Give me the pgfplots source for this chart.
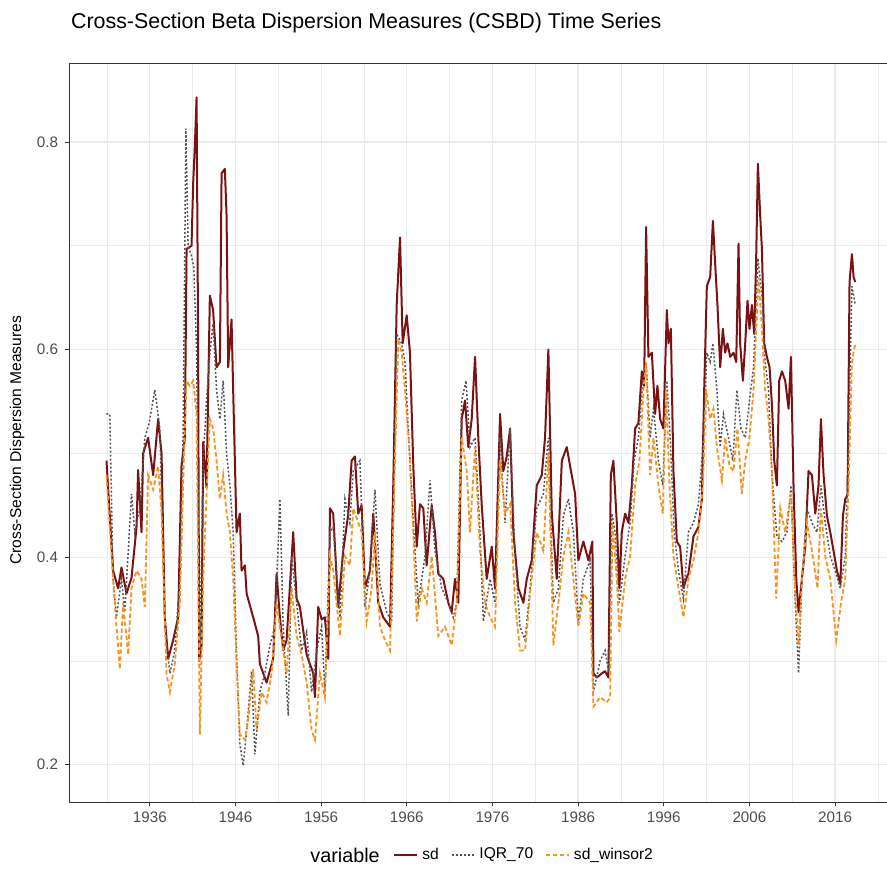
\documentclass[border=0pt]{standalone}
\usepackage{fontspec}
\setmainfont{Liberation Sans}
\usepackage{pgfplots}
\pgfplotsset{compat=1.18}
\usepackage{pgfplotstable}

\definecolor{sdred}{RGB}{122,18,20}
\definecolor{iqrgray}{RGB}{85,85,85}
\definecolor{winorange}{RGB}{247,147,30}
\definecolor{gridgray}{RGB}{235,235,235}
\definecolor{framegray}{RGB}{51,51,51}
\definecolor{ticktext}{RGB}{77,77,77}

% sd
\pgfplotstableread{
year val
1930.94 0.493
1931.71 0.387
1932.30 0.370
1932.69 0.390
1933.28 0.365
1933.86 0.380
1934.45 0.429
1934.63 0.484
1935.03 0.424
1935.22 0.500
1935.80 0.515
1936.39 0.479
1936.97 0.533
1937.37 0.500
1937.75 0.342
1938.14 0.302
1938.72 0.320
1939.31 0.342
1939.70 0.488
1940.09 0.515
1940.29 0.697
1940.87 0.700
1941.06 0.760
1941.26 0.797
1941.46 0.843
1941.64 0.606
1941.76 0.300
1942.04 0.315
1942.23 0.511
1942.62 0.467
1943.01 0.652
1943.39 0.638
1943.79 0.583
1944.18 0.588
1944.38 0.770
1944.76 0.774
1944.96 0.729
1945.15 0.583
1945.54 0.629
1945.73 0.561
1946.13 0.424
1946.51 0.442
1946.71 0.387
1947.10 0.392
1947.30 0.365
1948.07 0.342
1948.65 0.324
1948.85 0.297
1949.63 0.279
1950.40 0.302
1950.80 0.384
1951.19 0.342
1951.57 0.310
1951.97 0.320
1952.74 0.424
1953.14 0.360
1953.52 0.352
1954.31 0.306
1955.08 0.288
1955.28 0.265
1955.66 0.352
1956.06 0.340
1956.44 0.342
1956.83 0.302
1957.03 0.447
1957.41 0.442
1957.99 0.352
1958.58 0.406
1959.17 0.442
1959.56 0.493
1959.95 0.497
1960.33 0.442
1960.73 0.450
1961.12 0.370
1961.70 0.387
1962.09 0.442
1962.67 0.356
1963.25 0.342
1964.04 0.333
1964.42 0.469
1964.82 0.643
1965.21 0.708
1965.52 0.606
1965.99 0.633
1966.37 0.597
1966.76 0.488
1967.16 0.410
1967.54 0.451
1967.93 0.447
1968.32 0.392
1968.91 0.450
1969.29 0.424
1969.68 0.384
1970.26 0.379
1970.85 0.356
1971.24 0.347
1971.63 0.379
1972.02 0.356
1972.41 0.533
1972.80 0.551
1973.18 0.506
1973.58 0.533
1973.97 0.593
1974.35 0.515
1974.75 0.450
1975.33 0.379
1975.92 0.410
1976.30 0.370
1976.89 0.538
1977.27 0.483
1977.67 0.497
1978.06 0.524
1978.44 0.424
1979.03 0.370
1979.61 0.356
1980.01 0.379
1980.59 0.397
1981.17 0.469
1981.76 0.479
1982.14 0.515
1982.53 0.600
1982.93 0.442
1983.51 0.379
1984.10 0.493
1984.68 0.506
1985.06 0.488
1985.65 0.461
1986.03 0.397
1986.62 0.415
1987.20 0.397
1987.67 0.415
1987.79 0.288
1988.18 0.284
1988.77 0.288
1989.15 0.290
1989.54 0.284
1989.82 0.479
1990.12 0.493
1990.52 0.433
1990.82 0.370
1991.10 0.424
1991.49 0.442
1991.88 0.433
1992.27 0.469
1992.66 0.524
1993.04 0.529
1993.44 0.579
1993.71 0.565
1993.94 0.718
1994.21 0.593
1994.61 0.597
1994.99 0.538
1995.26 0.565
1995.58 0.533
1995.96 0.524
1996.36 0.638
1996.55 0.606
1996.83 0.620
1997.13 0.483
1997.53 0.415
1997.91 0.410
1998.30 0.370
1998.62 0.379
1998.88 0.384
1999.47 0.420
2000.05 0.429
2000.45 0.456
2000.72 0.561
2001.03 0.661
2001.42 0.670
2001.74 0.724
2002.00 0.683
2002.27 0.643
2002.59 0.583
2002.90 0.620
2003.17 0.597
2003.44 0.606
2003.76 0.593
2004.14 0.597
2004.46 0.588
2004.73 0.702
2004.92 0.606
2005.24 0.570
2005.51 0.606
2005.78 0.647
2006.01 0.620
2006.29 0.643
2006.56 0.615
2006.79 0.688
2006.99 0.779
2007.26 0.729
2007.46 0.697
2007.73 0.606
2008.04 0.593
2008.35 0.583
2008.63 0.547
2008.90 0.493
2009.21 0.469
2009.48 0.570
2009.80 0.579
2010.18 0.570
2010.57 0.543
2010.85 0.593
2011.15 0.469
2011.47 0.379
2011.74 0.347
2012.13 0.379
2012.52 0.410
2012.90 0.483
2013.30 0.479
2013.69 0.442
2014.07 0.469
2014.35 0.533
2014.66 0.479
2015.05 0.440
2015.44 0.424
2015.82 0.406
2016.22 0.387
2016.61 0.374
2016.92 0.440
2017.19 0.456
2017.46 0.460
2017.69 0.665
2017.97 0.692
2018.16 0.670
2018.36 0.665
}\sddata

% IQR_70
\pgfplotstableread{
year val
1930.94 0.538
1931.33 0.538
1931.71 0.379
1932.11 0.342
1932.69 0.379
1933.08 0.347
1933.86 0.461
1934.25 0.424
1934.83 0.447
1935.42 0.515
1935.92 0.529
1936.58 0.561
1937.17 0.524
1937.75 0.333
1938.34 0.288
1938.92 0.310
1939.50 0.379
1939.89 0.520
1940.21 0.813
1940.47 0.700
1940.87 0.690
1941.14 0.679
1941.46 0.597
1941.84 0.310
1942.23 0.493
1942.62 0.551
1943.01 0.597
1943.39 0.625
1943.79 0.561
1944.18 0.533
1944.56 0.570
1944.96 0.500
1945.35 0.469
1945.73 0.424
1946.13 0.306
1946.51 0.220
1946.90 0.199
1947.30 0.233
1947.88 0.290
1948.27 0.210
1948.85 0.270
1949.43 0.288
1950.02 0.315
1950.60 0.333
1951.19 0.456
1951.57 0.333
1952.16 0.247
1952.55 0.401
1953.14 0.356
1953.72 0.310
1954.31 0.328
1954.89 0.270
1955.47 0.310
1956.06 0.333
1956.44 0.270
1957.03 0.424
1957.41 0.429
1958.20 0.342
1958.78 0.456
1959.36 0.433
1959.75 0.483
1960.53 0.493
1961.12 0.352
1961.70 0.387
1962.28 0.465
1962.87 0.374
1963.65 0.347
1964.24 0.338
1964.82 0.615
1965.40 0.606
1965.79 0.588
1966.17 0.524
1966.76 0.433
1967.34 0.356
1968.13 0.401
1968.71 0.474
1969.29 0.406
1970.08 0.370
1970.85 0.356
1971.43 0.342
1971.83 0.356
1972.41 0.551
1972.92 0.570
1973.38 0.506
1973.97 0.515
1974.55 0.424
1974.94 0.338
1975.72 0.379
1976.30 0.356
1976.89 0.515
1977.47 0.433
1978.06 0.524
1978.64 0.401
1979.22 0.333
1979.81 0.320
1980.39 0.370
1981.17 0.447
1981.95 0.461
1982.53 0.515
1983.11 0.356
1983.70 0.370
1984.28 0.440
1984.87 0.456
1985.45 0.424
1986.03 0.338
1986.62 0.379
1987.40 0.397
1987.79 0.270
1988.57 0.300
1989.15 0.310
1989.54 0.290
1989.94 0.442
1990.32 0.424
1990.82 0.356
1991.49 0.401
1992.07 0.433
1992.54 0.493
1993.04 0.515
1993.56 0.570
1993.94 0.588
1994.41 0.515
1994.80 0.543
1995.38 0.493
1995.89 0.469
1996.36 0.570
1996.75 0.515
1997.21 0.424
1997.72 0.387
1998.30 0.360
1998.88 0.424
1999.47 0.433
2000.05 0.451
2000.64 0.515
2001.03 0.597
2001.42 0.588
2001.74 0.606
2002.20 0.561
2002.59 0.506
2002.97 0.538
2003.56 0.515
2004.07 0.493
2004.54 0.561
2005.01 0.524
2005.51 0.515
2006.01 0.551
2006.48 0.583
2006.99 0.688
2007.46 0.652
2007.84 0.588
2008.23 0.561
2008.63 0.479
2009.21 0.420
2009.80 0.415
2010.38 0.424
2010.85 0.469
2011.35 0.356
2011.74 0.288
2012.13 0.379
2012.72 0.447
2013.30 0.433
2013.89 0.424
2014.35 0.469
2014.85 0.433
2015.44 0.401
2016.02 0.387
2016.61 0.370
2017.19 0.401
2017.58 0.515
2017.97 0.661
2018.36 0.643
}\iqrdata

% sd_winsor2
\pgfplotstableread{
year val
1930.94 0.479
1931.71 0.379
1932.11 0.333
1932.50 0.292
1932.88 0.356
1933.47 0.306
1933.86 0.370
1934.45 0.387
1935.03 0.379
1935.42 0.352
1935.80 0.479
1936.39 0.465
1936.97 0.488
1937.37 0.442
1937.95 0.288
1938.34 0.270
1938.92 0.297
1939.50 0.356
1939.97 0.493
1940.29 0.570
1940.67 0.565
1941.06 0.570
1941.46 0.538
1941.84 0.229
1942.23 0.379
1942.62 0.461
1943.01 0.533
1943.39 0.524
1943.79 0.493
1944.18 0.456
1944.56 0.479
1944.96 0.442
1945.35 0.424
1945.73 0.379
1946.13 0.297
1946.51 0.229
1947.10 0.224
1947.48 0.243
1948.07 0.292
1948.46 0.233
1949.05 0.270
1949.63 0.260
1950.22 0.288
1950.80 0.356
1951.39 0.320
1951.97 0.288
1952.55 0.370
1953.14 0.324
1953.72 0.306
1954.31 0.279
1954.89 0.233
1955.28 0.224
1955.86 0.288
1956.44 0.265
1957.03 0.401
1957.41 0.387
1958.20 0.324
1958.78 0.401
1959.36 0.392
1959.75 0.447
1960.33 0.433
1960.73 0.424
1961.31 0.338
1961.90 0.370
1962.28 0.424
1962.87 0.333
1963.45 0.320
1964.04 0.310
1964.62 0.493
1965.01 0.610
1965.40 0.597
1965.79 0.561
1966.29 0.506
1966.76 0.424
1967.16 0.338
1967.74 0.370
1968.32 0.356
1968.91 0.401
1969.68 0.324
1970.46 0.333
1971.24 0.315
1971.83 0.356
1972.41 0.515
1973.00 0.483
1973.38 0.424
1973.97 0.506
1974.55 0.406
1975.14 0.356
1975.72 0.342
1976.30 0.333
1976.89 0.493
1977.47 0.442
1978.06 0.451
1978.64 0.356
1979.22 0.310
1979.81 0.310
1980.39 0.365
1981.17 0.424
1981.95 0.406
1982.53 0.500
1983.11 0.315
1983.70 0.356
1984.28 0.401
1984.87 0.424
1985.45 0.379
1986.03 0.333
1986.62 0.365
1987.40 0.356
1987.79 0.256
1988.57 0.265
1989.35 0.260
1989.74 0.265
1990.01 0.433
1990.52 0.379
1990.82 0.328
1991.49 0.379
1992.07 0.401
1992.66 0.469
1993.16 0.493
1993.63 0.561
1993.94 0.588
1994.41 0.479
1994.80 0.515
1995.38 0.469
1995.89 0.442
1996.28 0.561
1996.67 0.469
1997.13 0.401
1997.72 0.370
1998.30 0.342
1998.88 0.379
1999.47 0.397
2000.05 0.424
2000.57 0.469
2000.95 0.561
2001.42 0.533
2001.80 0.543
2002.20 0.506
2002.79 0.474
2003.17 0.515
2003.67 0.488
2004.14 0.483
2004.61 0.524
2005.12 0.461
2005.51 0.493
2006.01 0.515
2006.48 0.561
2007.06 0.670
2007.46 0.620
2007.84 0.561
2008.23 0.533
2008.63 0.483
2009.13 0.360
2009.60 0.447
2010.18 0.424
2010.85 0.461
2011.35 0.365
2011.74 0.315
2012.13 0.379
2012.72 0.433
2013.30 0.406
2013.95 0.370
2014.35 0.447
2014.85 0.401
2015.44 0.379
2016.14 0.320
2016.69 0.356
2017.19 0.379
2017.58 0.469
2017.97 0.588
2018.36 0.606
}\wsdata

\begin{document}
\begin{tikzpicture}
\begin{axis}[
    scale only axis,
    width=411.55pt, height=369pt,
    xmin=1926.6, xmax=2022.7,
    ymin=0.164, ymax=0.8752,
    xtick={1936,1946,...,2016},
    ytick={0.2,0.4,0.6,0.8},
    minor xtick={1931,1941,...,2021},
    minor ytick={0.3,0.5,0.7},
    grid=both,
    major grid style={gridgray, line width=0.6pt},
    minor grid style={gridgray, line width=0.3pt},
    tick align=outside,
    major tick length=2.2pt,
    minor tick length=0pt,
    xtick pos=bottom, ytick pos=left,
    tick style={framegray, line width=0.5pt},
    axis line style={framegray, line width=0.5pt},
    /pgf/number format/assume math mode=true,
    ticklabel style={font=\fontsize{7.6}{8}\selectfont, text=ticktext},
    xticklabel style={/pgf/number format/1000 sep={}, anchor=north, inner sep=0pt, yshift=-2.4pt},
    yticklabel style={/pgf/number format/fixed, /pgf/number format/precision=1, anchor=east, inner sep=0pt, xshift=-3.2pt},
    legend columns=-1,
    legend style={at={(rel axis cs:0.3933,-0.0718)}, anchor=west, draw=none, fill=none,
        inner sep=0pt, font=\fontsize{7.8}{9}\selectfont,
        /tikz/every even column/.append style={column sep=4pt}},
    legend image code/.code={\draw[#1] (0pt,0pt) -- (11.5pt,0pt);},
    clip=false,
]
\addplot[sdred, line width=1pt, line join=round] table[x=year, y=val] {\sddata};
\addplot[iqrgray, line width=0.75pt, dash pattern=on 1pt off 1pt] table[x=year, y=val] {\iqrdata};
\addplot[winorange, line width=0.9pt, dash pattern=on 2.2pt off 1.3pt] table[x=year, y=val] {\wsdata};
\legend{sd, IQR\_70, sd\_winsor2}

\node[anchor=west, inner sep=0pt, font=\fontsize{10.7}{12}\selectfont] at (rel axis cs:0.0017,1.0555)
    {Cross-Section Beta Dispersion Measures (CSBD) Time Series};
\node[rotate=90, inner sep=0pt, font=\fontsize{7.8}{9}\selectfont] at (rel axis cs:-0.0635,0.49)
    {Cross-Section Dispersion Measures};
\node[inner sep=0pt, font=\fontsize{9.9}{11}\selectfont] at (rel axis cs:0.335,-0.0718) {variable};
\coordinate (bl) at (rel axis cs:-0.0842,-0.1057);
\coordinate (tr) at (rel axis cs:0.9934,1.0867);
\end{axis}
\pgfresetboundingbox
\path (bl) rectangle (tr);
\end{tikzpicture}
\end{document}
